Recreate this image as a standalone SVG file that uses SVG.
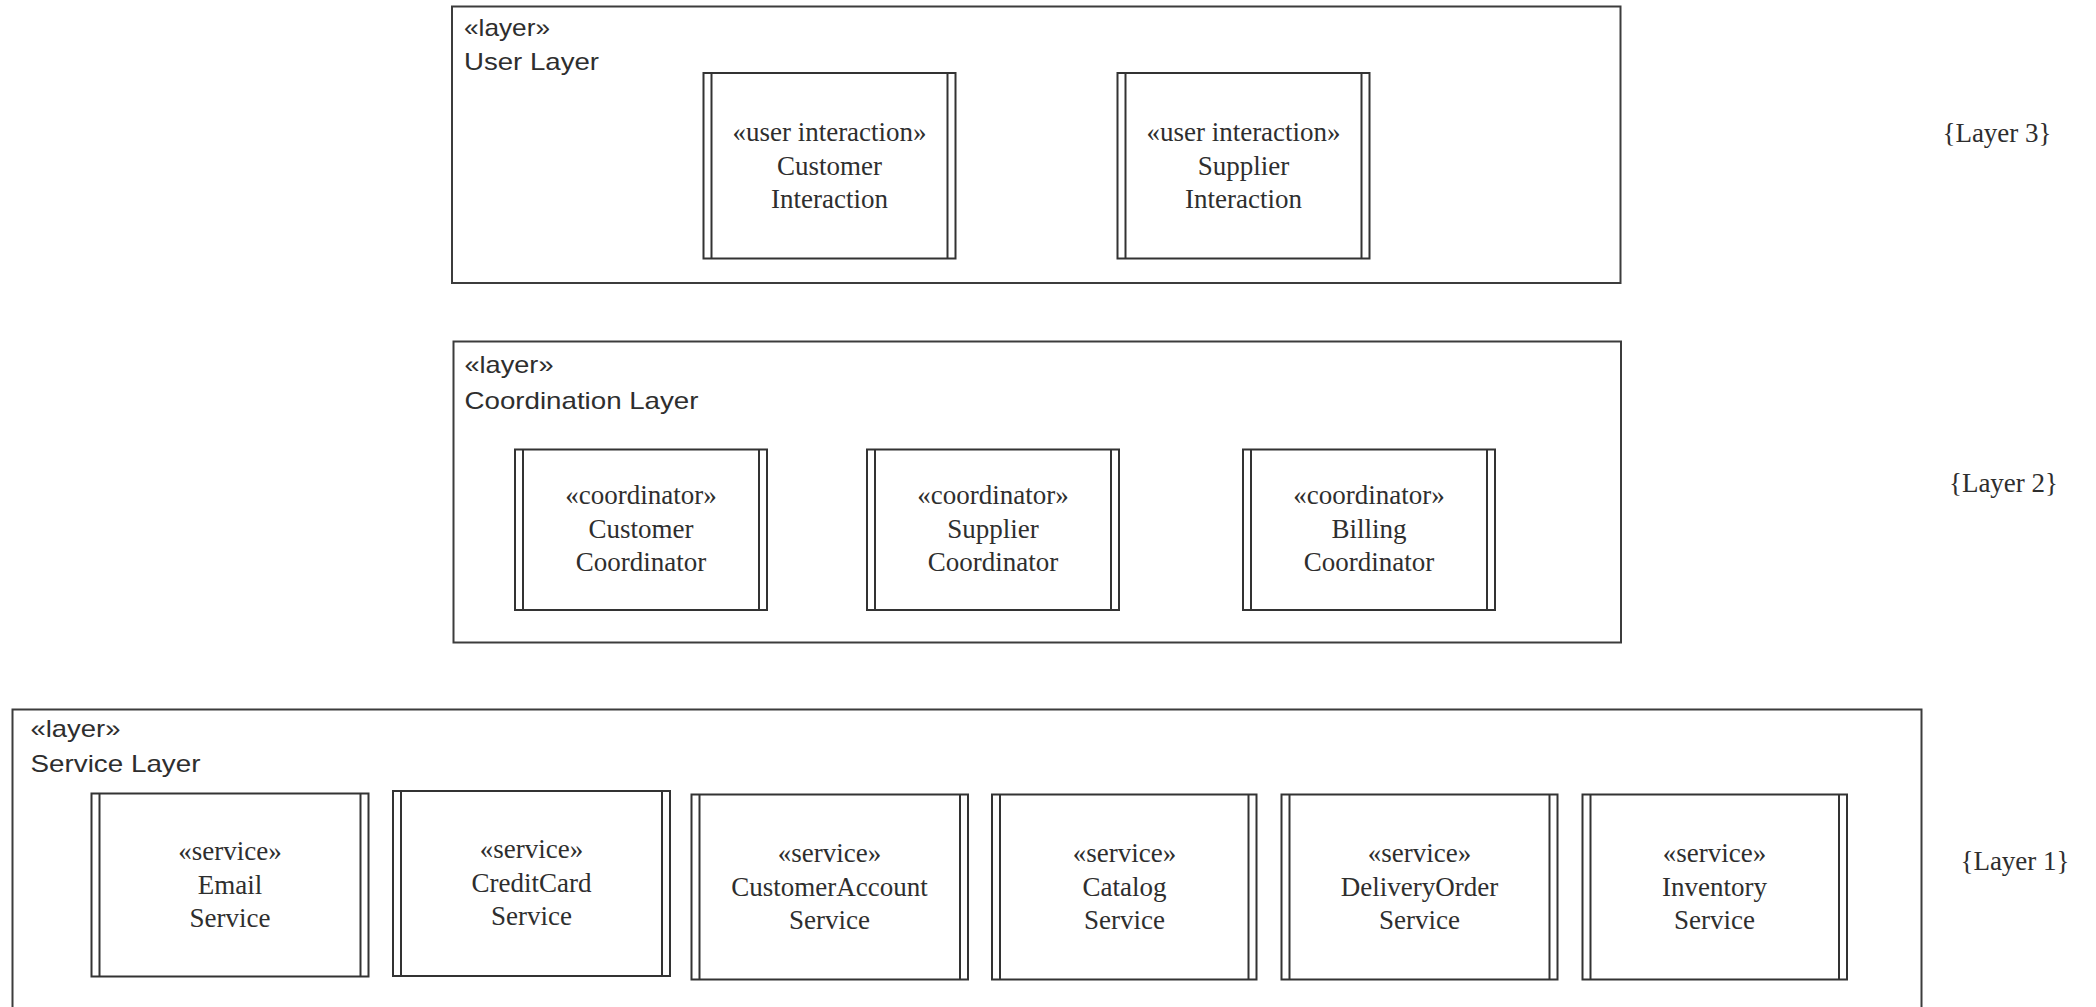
<svg xmlns="http://www.w3.org/2000/svg" width="2096" height="1007" viewBox="0 0 2096 1007">
  <style>
    .layer { fill: #ffffff; stroke: #3c3c3c; stroke-width: 2; }
    .node { fill: #ffffff; stroke: #333333; stroke-width: 2; }
    .bar { stroke: #333333; stroke-width: 2; }
    .title { font-family: "Liberation Sans", Arial, sans-serif; font-size: 24px; fill: #2e2e2e; }
    .label { font-family: "Liberation Serif", "Times New Roman", serif; font-size: 27px; fill: #2e2e2e; text-anchor: middle; }
  </style>
  <rect width="2096" height="1007" fill="#ffffff"/>

  <!-- Layer 3: user layer -->
  <g id="user-layer">
    <rect class="layer" x="452" y="6.5" width="1168.5" height="276.5"/>
    <text class="title" x="464" y="36" textLength="86" lengthAdjust="spacingAndGlyphs">«layer»</text>
    <text class="title" x="464" y="69.5" textLength="135" lengthAdjust="spacingAndGlyphs">User Layer</text>
  </g>
  <g id="customer-interaction">
    <rect class="node" x="703.5" y="73" width="252" height="185.5"/>
    <line class="bar" x1="711.5" y1="73" x2="711.5" y2="258.5"/>
    <line class="bar" x1="947.5" y1="73" x2="947.5" y2="258.5"/>
    <text class="label" x="829.5" y="141">«user interaction»</text>
    <text class="label" x="829.5" y="174.5">Customer</text>
    <text class="label" x="829.5" y="208">Interaction</text>
  </g>
  <g id="supplier-interaction">
    <rect class="node" x="1117.5" y="73" width="252" height="185.5"/>
    <line class="bar" x1="1125.5" y1="73" x2="1125.5" y2="258.5"/>
    <line class="bar" x1="1361.5" y1="73" x2="1361.5" y2="258.5"/>
    <text class="label" x="1243.5" y="141">«user interaction»</text>
    <text class="label" x="1243.5" y="174.5">Supplier</text>
    <text class="label" x="1243.5" y="208">Interaction</text>
  </g>
  <text id="layer-3-tag" class="label" x="1997" y="142">{Layer 3}</text>

  <!-- Layer 2: coordination layer -->
  <g id="coordination-layer">
    <rect class="layer" x="453.5" y="341.5" width="1167.5" height="301"/>
    <text class="title" x="464.5" y="373" textLength="89" lengthAdjust="spacingAndGlyphs">«layer»</text>
    <text class="title" x="464.5" y="408.5" textLength="234" lengthAdjust="spacingAndGlyphs">Coordination Layer</text>
  </g>
  <g id="customer-coordinator">
    <rect class="node" x="515" y="449.5" width="252" height="160.5"/>
    <line class="bar" x1="523" y1="449.5" x2="523" y2="610"/>
    <line class="bar" x1="759" y1="449.5" x2="759" y2="610"/>
    <text class="label" x="641" y="504">«coordinator»</text>
    <text class="label" x="641" y="537.5">Customer</text>
    <text class="label" x="641" y="571">Coordinator</text>
  </g>
  <g id="supplier-coordinator">
    <rect class="node" x="867" y="449.5" width="252" height="160.5"/>
    <line class="bar" x1="875" y1="449.5" x2="875" y2="610"/>
    <line class="bar" x1="1111" y1="449.5" x2="1111" y2="610"/>
    <text class="label" x="993" y="504">«coordinator»</text>
    <text class="label" x="993" y="537.5">Supplier</text>
    <text class="label" x="993" y="571">Coordinator</text>
  </g>
  <g id="billing-coordinator">
    <rect class="node" x="1243" y="449.5" width="252" height="160.5"/>
    <line class="bar" x1="1251" y1="449.5" x2="1251" y2="610"/>
    <line class="bar" x1="1487" y1="449.5" x2="1487" y2="610"/>
    <text class="label" x="1369" y="504">«coordinator»</text>
    <text class="label" x="1369" y="537.5">Billing</text>
    <text class="label" x="1369" y="571">Coordinator</text>
  </g>
  <text id="layer-2-tag" class="label" x="2003.5" y="492">{Layer 2}</text>

  <!-- Layer 1: service layer (runs past the bottom edge) -->
  <g id="service-layer">
    <rect class="layer" x="12.5" y="709.5" width="1909" height="310"/>
    <text class="title" x="30.5" y="737" textLength="90" lengthAdjust="spacingAndGlyphs">«layer»</text>
    <text class="title" x="30.5" y="772" textLength="170" lengthAdjust="spacingAndGlyphs">Service Layer</text>
  </g>
  <g id="email-service">
    <rect class="node" x="91.5" y="793.5" width="277" height="183"/>
    <line class="bar" x1="99.5" y1="793.5" x2="99.5" y2="976.5"/>
    <line class="bar" x1="360.5" y1="793.5" x2="360.5" y2="976.5"/>
    <text class="label" x="230" y="859.5">«service»</text>
    <text class="label" x="230" y="893.5">Email</text>
    <text class="label" x="230" y="927">Service</text>
  </g>
  <g id="creditcard-service">
    <rect class="node" x="393" y="791" width="277" height="185"/>
    <line class="bar" x1="401" y1="791" x2="401" y2="976"/>
    <line class="bar" x1="662" y1="791" x2="662" y2="976"/>
    <text class="label" x="531.5" y="858">«service»</text>
    <text class="label" x="531.5" y="892">CreditCard</text>
    <text class="label" x="531.5" y="925">Service</text>
  </g>
  <g id="customeraccount-service">
    <rect class="node" x="691.5" y="794.5" width="276.5" height="185"/>
    <line class="bar" x1="699.5" y1="794.5" x2="699.5" y2="979.5"/>
    <line class="bar" x1="960" y1="794.5" x2="960" y2="979.5"/>
    <text class="label" x="829.5" y="862">«service»</text>
    <text class="label" x="829.5" y="895.5">CustomerAccount</text>
    <text class="label" x="829.5" y="929">Service</text>
  </g>
  <g id="catalog-service">
    <rect class="node" x="992" y="794.5" width="264.5" height="185"/>
    <line class="bar" x1="1000" y1="794.5" x2="1000" y2="979.5"/>
    <line class="bar" x1="1248.5" y1="794.5" x2="1248.5" y2="979.5"/>
    <text class="label" x="1124.5" y="862">«service»</text>
    <text class="label" x="1124.5" y="895.5">Catalog</text>
    <text class="label" x="1124.5" y="929">Service</text>
  </g>
  <g id="deliveryorder-service">
    <rect class="node" x="1281.5" y="794.5" width="276" height="185"/>
    <line class="bar" x1="1289.5" y1="794.5" x2="1289.5" y2="979.5"/>
    <line class="bar" x1="1549.5" y1="794.5" x2="1549.5" y2="979.5"/>
    <text class="label" x="1419.5" y="862">«service»</text>
    <text class="label" x="1419.5" y="895.5">DeliveryOrder</text>
    <text class="label" x="1419.5" y="929">Service</text>
  </g>
  <g id="inventory-service">
    <rect class="node" x="1582.5" y="794.5" width="264.5" height="185"/>
    <line class="bar" x1="1590.5" y1="794.5" x2="1590.5" y2="979.5"/>
    <line class="bar" x1="1839" y1="794.5" x2="1839" y2="979.5"/>
    <text class="label" x="1714.5" y="862">«service»</text>
    <text class="label" x="1714.5" y="895.5">Inventory</text>
    <text class="label" x="1714.5" y="929">Service</text>
  </g>
  <text id="layer-1-tag" class="label" x="2015" y="870">{Layer 1}</text>

  <!-- no connectors between the layers -->
  <g id="connectors"/>
</svg>
